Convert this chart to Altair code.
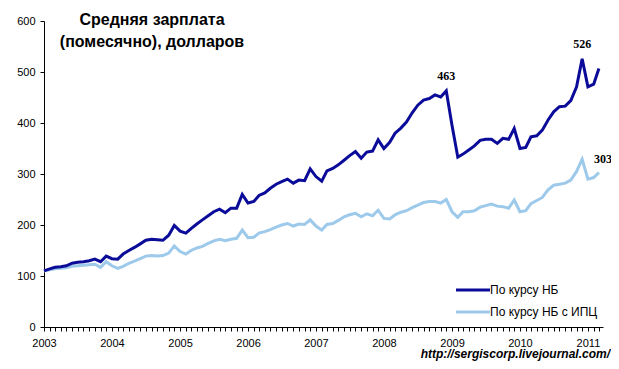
import altair as alt
import pandas as pd

# Monthly average wage, USD (Jan 2003 .. Mar 2011)
series_nb = [110, 114, 117, 118, 120, 125, 127, 128, 130, 133, 128, 139,
             134, 133, 143, 150, 156, 163, 170, 172, 171, 170, 180, 199,
             188, 184, 193, 202, 210, 218, 226, 231, 224, 233, 233, 260,
             243, 246, 258, 263, 272, 280, 285, 290, 282, 288, 287, 310,
             295, 286, 306, 311, 318, 327, 336, 344, 331, 343, 345, 367,
             350, 362, 380, 390, 402, 420, 435, 445, 448, 455, 451, 463,
             395, 333, 339, 347, 355, 366, 368, 368, 360, 370, 368, 389,
             350, 352, 373, 375, 386, 406, 422, 432, 433, 444, 471, 526,
             471, 476, 507]
series_cpi = [110, 112, 114, 115, 116, 119, 120, 121, 122, 123, 117, 128,
              120, 115, 119, 125, 129, 134, 139, 140, 139, 140, 145, 159,
              148, 143, 150, 155, 158, 164, 169, 172, 169, 172, 174, 190,
              175, 176, 184, 187, 191, 196, 200, 203, 198, 202, 201, 210,
              198, 190, 201, 203, 209, 216, 220, 223, 216, 222, 218, 229,
              213, 212, 220, 225, 228, 234, 239, 244, 246, 246, 243, 250,
              226, 215, 226, 226, 228, 235, 238, 241, 237, 236, 233, 249,
              226, 228, 242, 248, 254, 269, 278, 280, 282, 288, 305, 329,
              290, 293, 303]
names = ["По курсу НБ", "По курсу НБ с ИПЦ"]
colors = ["#0b0b99", "#9dc9ea"]
label_idx_nb = [71, 95]
label_idx_cpi = [98]

months = pd.date_range("2003-01-01", periods=len(series_nb), freq="MS")
df = pd.concat([
    pd.DataFrame({"date": months, "value": series_nb, "series": names[0], "idx": range(len(months))}),
    pd.DataFrame({"date": months, "value": series_cpi, "series": names[1], "idx": range(len(months))}),
])
df["date"] = df["date"].dt.strftime("%Y-%m-%d")

tick_vals = [d.strftime("%Y-%m-%d") for d in pd.date_range("2003-01-01", "2011-03-01", freq="MS")]

xscale = alt.Scale(domain=["2003-01-01", "2011-03-23"])
yscale = alt.Scale(domain=[0, 600])

x = alt.X("date:T", scale=xscale, title=None,
          axis=alt.Axis(values=tick_vals, grid=False, tickSize=4, labelPadding=6,
                        labelExpr="month(datum.value) == 0 ? timeFormat(datum.value, '%Y') : ''",
                        labelFlush=False, labelOverlap=False, labelAngle=0))
y = alt.Y("value:Q", scale=yscale, title=None,
          axis=alt.Axis(values=[0, 100, 200, 300, 400, 500, 600], grid=False, tickSize=4, labelPadding=5))

base = alt.Chart(df)

line_cpi = base.transform_filter(alt.datum.series == names[1]).mark_line(
    strokeWidth=3, color=colors[1]).encode(x=x, y=y)
line_nb = base.transform_filter(alt.datum.series == names[0]).mark_line(
    strokeWidth=3, color=colors[0]).encode(x=x, y=y)

nb_expr = "datum.series == '%s' && indexof(%s, datum.idx) >= 0" % (names[0], str(label_idx_nb))
cpi_expr = "datum.series == '%s' && indexof(%s, datum.idx) >= 0" % (names[1], str(label_idx_cpi))

lab_nb = base.transform_filter(nb_expr).mark_text(
    font="Liberation Serif", fontWeight="bold", fontSize=12, dy=-15, color="black").encode(
    x=x, y=y, text=alt.Text("value:Q"))
lab_cpi = base.transform_filter(cpi_expr).mark_text(
    font="Liberation Serif", fontWeight="bold", fontSize=12, dy=-13, dx=4, color="black").encode(
    x=x, y=y, text=alt.Text("value:Q"))

# manual legend (bottom right, inside plot)
legend_layers = []
for i, (nm, col) in enumerate(zip(names, colors)):
    yy = 269 + 22 * i
    legend_layers.append(
        alt.Chart(pd.DataFrame({"t": [nm]})).mark_rule(strokeWidth=3, color=col).encode(
            x=alt.value(412), x2=alt.value(446), y=alt.value(yy)))
    legend_layers.append(
        alt.Chart(pd.DataFrame({"t": [nm]})).mark_text(
            font="Liberation Sans", fontSize=12, align="left", baseline="middle", color="black"
        ).encode(x=alt.value(446), y=alt.value(yy), text="t:N"))

title = alt.Chart(pd.DataFrame({"t": ["Средняя зарплата\n(помесячно), долларов"]})).mark_text(
    font="Liberation Sans", fontWeight="bold", fontSize=16, lineBreak="\n", lineHeight=22,
    align="center", baseline="top", color="black"
).encode(x=alt.value(108), y=alt.value(-9), text="t:N")

url = alt.Chart(pd.DataFrame({"t": ["http://sergiscorp.livejournal.com/"]})).mark_text(
    font="Liberation Sans", fontWeight="bold", fontStyle="italic", fontSize=12,
    align="right", baseline="middle", color="black"
).encode(x=alt.value(566), y=alt.value(333), text="t:N")

chart = alt.layer(line_cpi, line_nb, lab_nb, lab_cpi, title, url, *legend_layers).properties(
    width=559, height=306,
    autosize=alt.AutoSizeParams(type="none"),
    padding={"left": 36, "top": 13, "right": 8, "bottom": 35},
).configure_view(stroke=None).configure_axis(
    domainColor="black", tickColor="black", labelColor="black",
    labelFont="Liberation Sans", labelFontSize=11,
)

chart.save("out.html", embed_options={"renderer": "svg", "actions": False})
